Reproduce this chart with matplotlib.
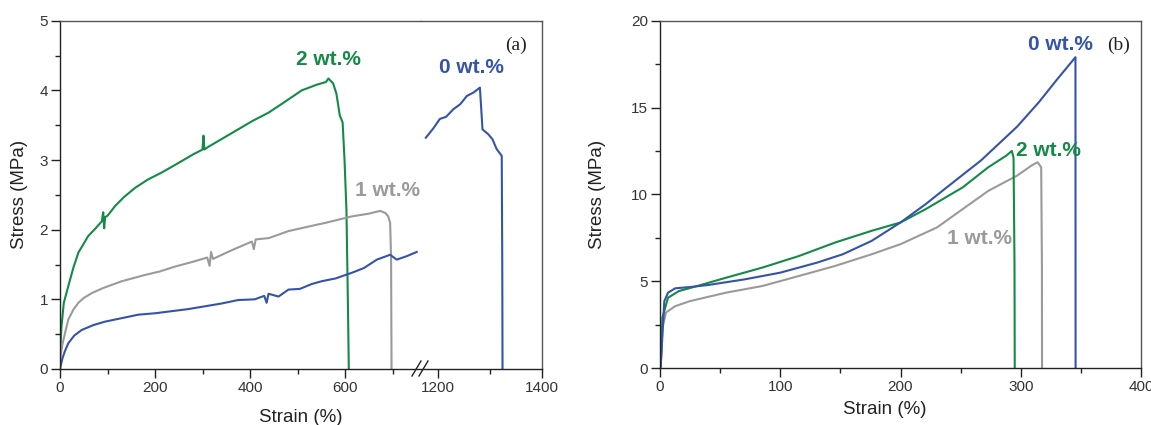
import matplotlib
matplotlib.use("Agg")
import matplotlib.pyplot as plt
from matplotlib.ticker import MultipleLocator, FixedLocator
from matplotlib.lines import Line2D

# ---- panel (a): stress-strain, broken strain axis ----
green_a_x = [0, 3, 8, 17.5, 28, 38.6, 50, 59.6, 75, 88, 91, 93, 95, 100, 116, 135, 158, 185,
             214, 250, 280, 300, 302, 304, 310, 340, 375, 405, 439, 470, 509, 540, 560, 565,
             575, 582, 589, 595, 599, 603, 606, 608]
green_a_y = [0.2, 0.6, 0.95, 1.19, 1.45, 1.67, 1.8, 1.91, 2.02, 2.12, 2.25, 2.02, 2.18, 2.2,
             2.34, 2.47, 2.6, 2.72, 2.82, 2.96, 3.08, 3.15, 3.35, 3.15, 3.18, 3.3, 3.44, 3.56,
             3.68, 3.82, 4.0, 4.08, 4.12, 4.17, 4.1, 3.95, 3.64, 3.54, 3.0, 2.29, 1.0, 0]

gray_a_x = [0, 5, 10, 17.5, 28, 38.6, 50, 67, 90, 130, 179, 210, 242, 280, 310, 315, 318, 322,
            360, 404, 408, 412, 440, 481, 520, 560, 614, 650, 674, 685, 691, 695, 697, 698]
gray_a_y = [0.13, 0.35, 0.5, 0.71, 0.85, 0.95, 1.02, 1.09, 1.16, 1.26, 1.35, 1.4, 1.47, 1.54,
            1.6, 1.48, 1.68, 1.58, 1.7, 1.83, 1.72, 1.86, 1.88, 1.98, 2.04, 2.1, 2.19, 2.23,
            2.27, 2.24, 2.19, 2.1, 1.6, 0]

blue_a_x = [0, 5, 10, 17.5, 30, 45.6, 70, 95, 130, 165, 200, 235, 270, 305, 340, 375, 410,
            430, 435, 439, 460, 481, 505, 530, 551, 580, 614, 640, 667, 695, 709, 730, 751]
blue_a_y = [0, 0.15, 0.25, 0.37, 0.48, 0.56, 0.63, 0.68, 0.73, 0.78, 0.8, 0.83, 0.86, 0.9,
            0.94, 0.99, 1.0, 1.05, 0.95, 1.08, 1.04, 1.14, 1.15, 1.22, 1.26, 1.3, 1.38, 1.45,
            1.57, 1.64, 1.57, 1.62, 1.68]

blue_a2_x = [1176, 1190, 1203, 1215, 1229, 1242, 1255, 1268, 1280, 1285, 1296, 1304, 1312,
             1322, 1323, 1323.5]
blue_a2_y = [3.32, 3.45, 3.59, 3.62, 3.73, 3.8, 3.92, 3.97, 4.04, 3.44, 3.37, 3.3, 3.16,
             3.06, 1.5, 0]

# ---- panel (b) ----
blue_b_x = [0, 0.6, 3.6, 6.7, 12.7, 24.8, 40, 70, 100, 130.7, 152, 176, 200, 221, 236.6,
            266.9, 297, 315, 330, 345.5, 345.6]
blue_b_y = [0, 0.1, 3.85, 4.34, 4.59, 4.66, 4.78, 5.1, 5.49, 6.07, 6.55, 7.32, 8.38, 9.44,
            10.3, 11.95, 13.9, 15.3, 16.6, 17.9, 0]

green_b_x = [0, 0.6, 2, 6.7, 15.7, 30.9, 55, 85, 115.6, 145.8, 176, 200, 221, 251.7, 273,
             288, 292.6, 294, 294.8, 295]
green_b_y = [0, 0.1, 2.9, 4.05, 4.43, 4.72, 5.2, 5.78, 6.45, 7.23, 7.9, 8.38, 9.15, 10.4,
             11.56, 12.23, 12.5, 12.1, 6.0, 0]

gray_b_x = [0, 0.6, 2, 5, 12.7, 24.8, 55, 85, 115.6, 145.8, 176, 200, 230.5, 251.7, 273,
            297, 309, 314, 317, 317.6, 317.7]
gray_b_y = [0, 0.1, 2.3, 3.2, 3.56, 3.85, 4.34, 4.72, 5.3, 5.88, 6.55, 7.13, 8.1, 9.15, 10.2,
            11.08, 11.66, 11.85, 11.56, 6.0, 0]

GREEN = "#148a47"
BLUE = "#3553a8"
GRAY = "#9a9a9a"
DARK = "#222222"

W, H = 1151, 425
plt.rcParams['font.family'] = ['Liberation Sans', 'DejaVu Sans']
fig = plt.figure(figsize=(W / 100, H / 100), dpi=100)


def px_axes(x0, x1, ytop, ybot):
    return fig.add_axes([x0 / W, 1 - ybot / H, (x1 - x0) / W, (ybot - ytop) / H])


def style(ax):
    for s in ax.spines.values():
        s.set_color(DARK)
        s.set_linewidth(1.0)
    ax.spines['top'].set_color('#555555')
    ax.spines['right'].set_color('#555555')
    ax.tick_params(which='major', direction='out', length=6.5, width=1, color=DARK,
                   labelsize=11, labelcolor='#333333', pad=2)
    ax.tick_params(which='minor', direction='out', length=3.5, width=1, color=DARK)


lw = 1.5
label_font = dict(family=['Liberation Sans Narrow', 'Liberation Sans'], weight='bold', fontsize=15)

# panel (a) left part
axL = px_axes(60, 421, 20.7, 369)
axR = px_axes(421, 542.3, 20.7, 369)
for ax in (axL, axR):
    ax.plot(green_a_x, green_a_y, color=GREEN, lw=lw)
    ax.plot(gray_a_x, gray_a_y, color=GRAY, lw=lw)
    ax.plot(blue_a_x, blue_a_y, color=BLUE, lw=lw)
    ax.plot(blue_a2_x, blue_a2_y, color=BLUE, lw=lw)
    ax.set_ylim(0, 5)
    style(ax)
axL.set_xlim(0, 760)
axR.set_xlim(1166.7, 1400)
axL.spines['right'].set_visible(False)
axR.spines['left'].set_visible(False)
axR.tick_params(axis='y', which='both', left=False, labelleft=False)
axL.xaxis.set_major_locator(FixedLocator([0, 200, 400, 600]))
axL.xaxis.set_minor_locator(FixedLocator([100, 300, 500, 700]))
axR.xaxis.set_major_locator(FixedLocator([1200, 1400]))
axR.xaxis.set_minor_locator(FixedLocator([1300]))
axL.yaxis.set_major_locator(MultipleLocator(1))
axL.yaxis.set_minor_locator(MultipleLocator(0.5))
axL.set_ylabel("Stress (MPa)", fontsize=13.5, color=DARK)
axL.yaxis.set_label_coords(-0.09, 0.5)

# break marks on the strain axis
for dx in (0, 7):
    fig.add_artist(Line2D([(412 + dx) / W, (421 + dx) / W], [1 - 376 / H, 1 - 361 / H],
                          color=DARK, lw=1.0, transform=fig.transFigure))

axL.text(565, 4.3, "2 wt.%", color=GREEN, ha='center', va='bottom', **label_font)
axL.text(690, 2.43, "1 wt.%", color=GRAY, ha='center', va='bottom', **label_font)
axR.text(1264, 4.19, "0 wt.%", color=BLUE, ha='center', va='bottom', **label_font)
axR.text(0.78, 0.93, "(a)", transform=axR.transAxes, fontsize=14,
         family=['Liberation Serif', 'DejaVu Serif'], color=DARK, ha='center', va='center')
fig.text(301 / W, 1 - 417 / H, "Strain (%)", fontsize=13.5, color=DARK, ha='center', va='center')

# panel (b)
axb = px_axes(660, 1141, 20.7, 368)
axb.plot(gray_b_x, gray_b_y, color=GRAY, lw=lw)
axb.plot(green_b_x, green_b_y, color=GREEN, lw=lw)
axb.plot(blue_b_x, blue_b_y, color=BLUE, lw=lw)
axb.set_xlim(0, 400)
axb.set_ylim(0, 20)
style(axb)
axb.xaxis.set_major_locator(MultipleLocator(100))
axb.xaxis.set_minor_locator(MultipleLocator(50))
axb.yaxis.set_major_locator(MultipleLocator(5))
axb.yaxis.set_minor_locator(MultipleLocator(2.5))
axb.set_ylabel("Stress (MPa)", fontsize=13.5, color=DARK)
axb.yaxis.set_label_coords(-0.112, 0.5)
axb.text(333, 18.1, "0 wt.%", color=BLUE, ha='center', va='bottom', **label_font)
axb.text(323, 12.0, "2 wt.%", color=GREEN, ha='center', va='bottom', **label_font)
axb.text(266, 6.9, "1 wt.%", color=GRAY, ha='center', va='bottom', **label_font)
axb.text(0.953, 0.93, "(b)", transform=axb.transAxes, fontsize=14,
         family=['Liberation Serif', 'DejaVu Serif'], color=DARK, ha='center', va='center')
fig.text(885 / W, 1 - 410 / H, "Strain (%)", fontsize=13.5, color=DARK, ha='center', va='center')

fig.savefig("out.png", dpi=100)
